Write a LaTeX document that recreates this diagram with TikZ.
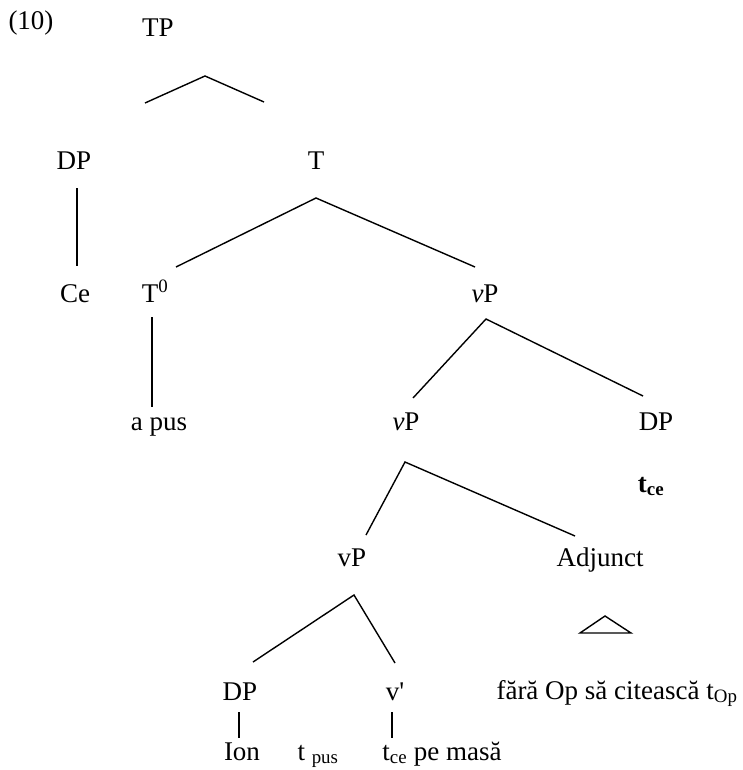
\documentclass[tikz,border=0pt]{standalone}
\usepackage{fontspec}
\setmainfont{Liberation Serif}

\begin{document}
\begin{tikzpicture}[x=1pt, y=-1pt, line width=1.4pt,
    lbl/.style={anchor=base, inner sep=0pt, font=\fontsize{27}{32}\selectfont}]
    \useasboundingbox (0,0) rectangle (743,770);
    \node[lbl] (num) at (31,30) {(10)};
    \node[lbl] (TP) at (158,37) {TP};
    \node[lbl] (DPce) at (74,170) {DP};
    \node[lbl] (T) at (316,170) {T};
    \node[lbl] (Ce) at (75,302) {Ce};
    \node[lbl] (Tzero) at (155,302) {T\textsuperscript{0}};
    \node[lbl] (vPtop) at (485,302) {\textit{v}P};
    \node[lbl] (apus) at (159,430) {a pus};
    \node[lbl] (vPmid) at (406,430) {\textit{v}P};
    \node[lbl] (DPtce) at (656,430) {DP};
    \node[lbl] (tce) at (651,492) {\textbf{t\textsubscript{ce}}};
    \node[lbl] (vPlow) at (352,566) {vP};
    \node[lbl] (Adj) at (600,566) {Adjunct};
    \node[lbl] (DPion) at (240,700) {DP};
    \node[lbl] (vbar) at (395,700) {v\textquotesingle};
    \node[lbl] (fara) at (617,699) {fără Op să citească t\textsubscript{Op}};
    \node[lbl] (Ion) at (242,760) {Ion};
    \node[lbl] (tpus) at (318,760) {t \textsubscript{pus}};
    \node[lbl] (tcemasa) at (442,760) {t\textsubscript{ce} pe masă};
    % branches
    \draw ([xshift=-13pt,yshift=-66pt]TP.base) -- ([xshift=47pt,yshift=-39pt]TP.base) -- ([xshift=106pt,yshift=-65pt]TP.base);
    \draw ([xshift=3pt,yshift=-18pt]DPce.base) -- ([xshift=2pt,yshift=36pt]Ce.base);
    \draw ([xshift=21pt,yshift=35pt]Tzero.base) -- ([yshift=-28pt]T.base) -- ([xshift=-10pt,yshift=35pt]vPtop.base);
    \draw ([xshift=-3pt,yshift=-15pt]Tzero.base) -- ([xshift=-7pt,yshift=23pt]apus.base);
    \draw ([xshift=7pt,yshift=32pt]vPmid.base) -- ([xshift=1pt,yshift=-17pt]vPtop.base) -- ([xshift=-13pt,yshift=34pt]DPtce.base);
    \draw ([xshift=14pt,yshift=31pt]vPlow.base) -- ([xshift=-1pt,yshift=-32pt]vPmid.base) -- ([xshift=-25pt,yshift=30pt]Adj.base);
    \draw ([xshift=13pt,yshift=38pt]DPion.base) -- ([xshift=2pt,yshift=-29pt]vPlow.base) -- ([yshift=37pt]vbar.base);
    \draw ([xshift=-1pt,yshift=-12pt]DPion.base) -- ([xshift=-3pt,yshift=22pt]Ion.base);
    \draw ([xshift=-3pt,yshift=-12pt]vbar.base) -- ([xshift=-50pt,yshift=22pt]tcemasa.base);
    % triangle over the adjunct
    \draw ([xshift=-37pt,yshift=66pt]fara.base) -- ([xshift=-12pt,yshift=83pt]fara.base) -- ([xshift=14pt,yshift=66pt]fara.base) -- cycle;
\end{tikzpicture}
\end{document}
